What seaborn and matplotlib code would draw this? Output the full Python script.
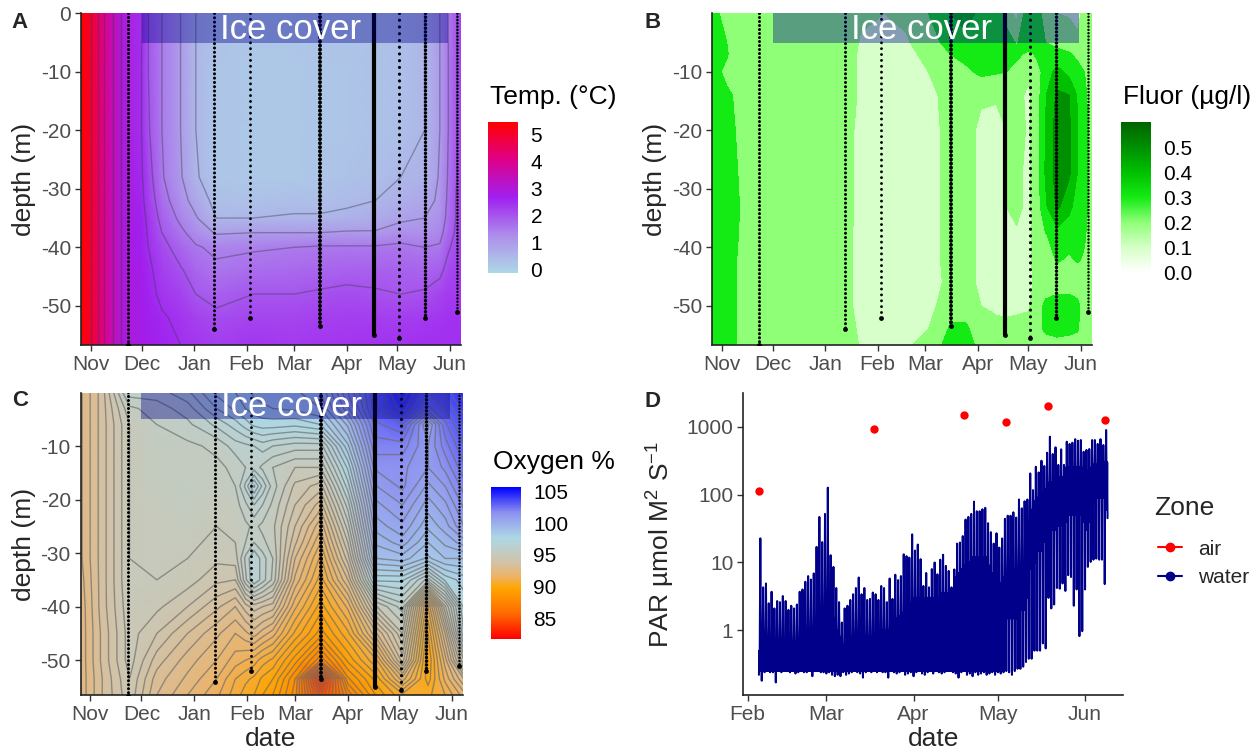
import numpy as np
import pandas as pd
import seaborn as sns
import matplotlib
matplotlib.use('Agg')
import matplotlib.pyplot as plt
import matplotlib.dates as mdates
from matplotlib.colors import LinearSegmentedColormap, Normalize
from matplotlib.cm import ScalarMappable
from matplotlib.lines import Line2D

W, H = 1256, 752

month_dates = ['2018-11-01', '2018-12-01', '2019-01-01', '2019-02-01', '2019-03-01', '2019-04-01', '2019-05-01', '2019-06-01']
month_labels = ['Nov', 'Dec', 'Jan', 'Feb', 'Mar', 'Apr', 'May', 'Jun']
depth_ticks = [0, -10, -20, -30, -40, -50]
depth_labels = ['0', '-10', '-20', '-30', '-40', '-50']

# profiles taken through the season
station_dates = ['2018-11-23', '2019-01-13', '2019-02-03', '2019-03-16', '2019-04-17', '2019-05-02', '2019-05-17', '2019-06-05']
station_bottom = [-56.7, -54.0, -52.0, -53.5, -55.0, -55.5, -52.0, -51.0]
station_width = [2.2, 2.2, 2.1, 2.9, 3.0, 2.3, 2.5, 1.8]
station_gap = [1.3, 1.4, 2.0, 1.0, 0, 2.1, 1.05, 1.3]

# A: temperature
temp_dates = ['2018-10-26', '2018-11-01', '2018-11-05', '2018-11-09', '2018-11-14', '2018-11-19', '2018-12-01', '2018-12-05',
              '2018-12-13', '2018-12-24', '2019-01-02', '2019-01-14', '2019-02-05', '2019-03-01', '2019-03-16', '2019-04-01',
              '2019-04-18', '2019-05-03', '2019-05-17', '2019-05-26', '2019-05-31', '2019-06-05', '2019-06-08']
temp_depths = [0, -10, -20, -28, -32, -35, -37.5, -40, -44, -48, -52, -56.7]
temp_values = [
    [5.6, 5.6, 5.6, 5.6, 5.6, 5.6, 5.6, 5.6, 5.6, 5.6, 5.6, 5.6],
    [5.0, 5.0, 5.0, 5.0, 5.0, 5.0, 5.0, 5.0, 5.0, 5.0, 5.0, 5.0],
    [4.5, 4.5, 4.5, 4.5, 4.5, 4.5, 4.5, 4.5, 4.5, 4.5, 4.5, 4.5],
    [4.0, 4.0, 4.0, 4.0, 4.0, 4.0, 4.0, 4.0, 4.0, 4.0, 4.0, 4.0],
    [3.5, 3.5, 3.5, 3.5, 3.5, 3.5, 3.5, 3.5, 3.5, 3.5, 3.5, 3.5],
    [3.0, 3.0, 3.0, 3.0, 3.0, 3.0, 3.0, 3.0, 3.0, 3.0, 3.0, 3.0],
    [2.5, 2.5, 2.5, 2.55, 2.6, 2.65, 2.7, 2.7, 2.75, 2.75, 2.8, 2.8],
    [2.0, 2.0, 2.05, 2.2, 2.3, 2.4, 2.45, 2.5, 2.6, 2.65, 2.7, 2.75],
    [1.5, 1.5, 1.5, 1.55, 1.7, 1.85, 2.0, 2.15, 2.3, 2.4, 2.55, 2.65],
    [1.0, 1.0, 1.0, 1.05, 1.2, 1.4, 1.6, 1.8, 2.05, 2.25, 2.4, 2.5],
    [0.5, 0.5, 0.5, 0.55, 0.8, 1.05, 1.3, 1.55, 1.8, 2.0, 2.25, 2.4],
    [0.3, 0.25, 0.25, 0.25, 0.35, 0.5, 0.95, 1.4, 1.6, 1.85, 2.1, 2.3],
    [0.25, 0.2, 0.2, 0.2, 0.3, 0.5, 1.0, 1.45, 1.7, 2.0, 2.2, 2.4],
    [0.25, 0.2, 0.2, 0.2, 0.35, 0.55, 1.0, 1.5, 1.75, 2.0, 2.2, 2.35],
    [0.3, 0.25, 0.25, 0.25, 0.35, 0.55, 1.0, 1.55, 1.8, 2.05, 2.25, 2.4],
    [0.3, 0.25, 0.25, 0.3, 0.42, 0.6, 1.05, 1.55, 1.85, 2.1, 2.3, 2.4],
    [0.3, 0.3, 0.3, 0.35, 0.5, 0.7, 1.05, 1.55, 1.85, 2.05, 2.3, 2.45],
    [0.4, 0.35, 0.35, 0.5, 0.65, 0.9, 1.25, 1.6, 1.85, 2.0, 2.3, 2.45],
    [0.5, 0.5, 0.5, 0.6, 0.8, 1.0, 1.2, 1.5, 1.8, 2.05, 2.35, 2.5],
    [1.0, 1.0, 1.0, 1.05, 1.1, 1.2, 1.35, 1.55, 1.9, 2.2, 2.4, 2.5],
    [1.5, 1.5, 1.5, 1.55, 1.6, 1.65, 1.75, 1.95, 2.15, 2.35, 2.45, 2.5],
    [2.0, 2.0, 2.0, 2.0, 2.05, 2.05, 2.1, 2.15, 2.25, 2.35, 2.45, 2.5],
    [2.3, 2.3, 2.3, 2.3, 2.3, 2.3, 2.3, 2.35, 2.4, 2.4, 2.45, 2.5],
]

# B: fluorescence
fluor_dates = ['2018-10-26', '2018-11-04', '2018-11-09', '2018-11-14', '2019-01-14', '2019-01-22', '2019-02-05', '2019-02-18',
               '2019-03-03', '2019-03-10', '2019-03-16', '2019-03-25', '2019-04-03', '2019-04-12', '2019-04-18', '2019-04-24',
               '2019-05-01', '2019-05-06', '2019-05-11', '2019-05-18', '2019-05-25', '2019-05-30', '2019-06-03', '2019-06-08']
fluor_depths = [0, -5, -7, -10, -14, -20, -27, -33, -38, -42, -46, -50, -54, -56.7]
fluor_values = [
    [.30, .30, .30, .30, .30, .30, .30, .30, .30, .30, .30, .30, .30, .30],
    [.20, .25, .26, .22, .27, .30, .30, .30, .30, .30, .30, .30, .30, .30],
    [.20, .20, .20, .20, .24, .25, .27, .30, .28, .26, .26, .26, .26, .26],
    [.20, .20, .20, .20, .20, .20, .20, .20, .20, .20, .20, .20, .20, .20],
    [.20, .20, .20, .20, .20, .18, .18, .18, .17, .17, .17, .17, .19, .20],
    [.17, .14, .13, .13, .13, .12, .12, .12, .12, .12, .12, .12, .13, .14],
    [.15, .12, .10, .10, .10, .10, .10, .10, .10, .10, .10, .10, .10, .10],
    [.17, .14, .13, .12, .10, .10, .10, .10, .10, .10, .10, .10, .12, .14],
    [.25, .20, .17, .15, .13, .13, .13, .13, .13, .13, .13, .13, .15, .18],
    [.30, .25, .20, .18, .155, .15, .15, .15, .15, .15, .145, .16, .19, .24],
    [.35, .30, .25, .20, .20, .20, .20, .20, .20, .20, .17, .20, .27, .32],
    [.38, .33, .28, .23, .20, .20, .20, .20, .20, .20, .20, .20, .27, .32],
    [.33, .30, .30, .27, .17, .12, .12, .12, .12, .12, .12, .15, .18, .20],
    [.34, .33, .32, .26, .16, .12, .12, .12, .12, .12, .12, .13, .18, .20],
    [.20, .30, .30, .25, .18, .15, .15, .15, .13, .12, .10, .12, .18, .20],
    [.12, .24, .28, .20, .18, .18, .17, .17, .14, .12, .10, .13, .18, .20],
    [.33, .32, .22, .17, .13, .14, .13, .13, .12, .12, .11, .14, .18, .20],
    [.30, .30, .27, .20, .20, .20, .20, .20, .20, .20, .19, .20, .20, .20],
    [.20, .25, .26, .30, .34, .35, .36, .33, .24, .20, .20, .27, .27, .20],
    [.15, .22, .28, .38, .47, .50, .50, .47, .30, .26, .20, .30, .30, .20],
    [.14, .20, .26, .32, .45, .47, .47, .38, .28, .24, .20, .30, .28, .20],
    [.12, .17, .23, .28, .34, .35, .35, .30, .27, .26, .20, .27, .26, .20],
    [.18, .20, .20, .25, .27, .28, .28, .28, .26, .24, .20, .20, .20, .20],
    [.20, .20, .20, .20, .20, .20, .20, .20, .20, .20, .20, .20, .20, .20],
]

# C: oxygen saturation
oxy_dates = ['2018-10-26', '2018-11-08', '2018-11-24', '2018-12-10', '2018-12-28', '2019-01-14', '2019-01-25', '2019-01-31',
             '2019-02-05', '2019-02-10', '2019-02-16', '2019-03-01', '2019-03-16', '2019-04-01', '2019-04-18', '2019-05-03',
             '2019-05-18', '2019-05-28', '2019-06-08']
oxy_depths = [0, -3, -6, -10, -14, -17.5, -21, -25, -28, -31, -35, -40, -45, -50, -53.5, -56.5]
oxy_values = [
    [92.5, 92.5, 92.5, 92.5, 92.5, 92.5, 92.5, 92.5, 92.5, 92.5, 92.4, 92.3, 92.3, 92.3, 92.3, 92.3],
    [93.6, 93.6, 93.6, 93.6, 93.6, 93.6, 93.6, 93.6, 93.6, 93.6, 93.6, 93.6, 93.5, 93.5, 93.4, 93.4],
    [96.0, 95.3, 95.0, 95.0, 95.0, 95.0, 95.0, 95.0, 95.0, 95.0, 95.0, 94.9, 94.8, 94.8, 94.6, 94.5],
    [96.0, 95.6, 95.4, 95.3, 95.3, 95.2, 95.1, 95.1, 95.1, 95.1, 95.0, 94.7, 94.2, 93.6, 93.2, 93.0],
    [96.5, 96.0, 95.7, 95.3, 95.3, 95.4, 95.3, 95.2, 95.1, 95.0, 94.8, 94.2, 93.4, 92.8, 92.5, 92.2],
    [97.5, 97.0, 96.3, 95.5, 95.3, 95.2, 95.1, 95.0, 94.9, 94.7, 94.3, 93.5, 92.7, 92.2, 91.8, 91.5],
    [97.8, 97.5, 96.8, 96.0, 95.5, 95.4, 95.2, 95.1, 95.0, 94.8, 94.2, 93.0, 92.2, 91.6, 91.0, 90.8],
    [98.0, 97.8, 97.2, 96.1, 95.8, 96.3, 95.7, 95.3, 95.4, 95.9, 95.7, 93.6, 92.5, 91.4, 90.7, 90.4],
    [98.3, 98.0, 97.5, 96.2, 96.0, 97.5, 96.2, 95.5, 95.8, 96.6, 96.6, 94.0, 92.8, 91.2, 90.5, 90.2],
    [98.4, 98.1, 97.6, 96.4, 95.7, 96.5, 95.8, 95.3, 95.5, 96.0, 96.0, 93.8, 92.4, 90.8, 90.1, 89.8],
    [98.5, 98.2, 97.6, 96.2, 95.4, 95.6, 95.3, 95.1, 95.2, 95.4, 95.3, 93.6, 92.0, 90.5, 89.8, 89.4],
    [98.5, 98.3, 97.5, 96.0, 95.0, 94.5, 94.2, 93.8, 93.5, 93.0, 92.5, 91.5, 90.5, 89.2, 88.2, 88.0],
    [99.0, 98.6, 97.8, 96.0, 95.0, 94.0, 93.2, 92.3, 91.8, 91.3, 90.8, 90.0, 89.2, 87.5, 83.5, 84.5],
    [101.0, 100.5, 99.5, 98.5, 97.5, 96.8, 96.0, 95.2, 94.6, 94.0, 93.0, 91.5, 90.5, 89.5, 88.5, 87.5],
    [103.0, 103.0, 102.5, 102.0, 101.5, 101.0, 100.5, 100.0, 99.5, 99.0, 97.5, 95.0, 93.0, 91.0, 90.0, 89.5],
    [104.5, 104.0, 103.0, 102.0, 101.5, 101.5, 101.0, 100.5, 100.0, 99.2, 97.5, 96.0, 95.0, 94.0, 92.0, 90.5],
    [103.0, 102.5, 100.5, 101.0, 101.0, 100.5, 100.0, 99.5, 99.0, 98.5, 96.0, 91.0, 90.2, 89.8, 90.0, 90.5],
    [103.5, 103.0, 102.5, 102.0, 101.5, 101.0, 100.5, 100.0, 99.5, 99.0, 97.5, 94.5, 93.0, 92.0, 91.5, 91.0],
    [104.5, 104.0, 103.5, 103.0, 102.5, 102.0, 101.5, 101.0, 100.0, 99.0, 98.0, 97.5, 97.0, 95.0, 93.0, 92.0],
]

# D: PAR per day from 5 Feb to 8 Jun: noon peak, top of the solid band, night low, daytime trough
par_first_day = '2019-02-05'
par_peak = [22.7, 4.3, 4.9, 2.5, 3.7, 2.1, 2.7, 2.6, 3.2, 2.7, 2.0, 2.3, 2.1, 2.4, 3.7, 4.0, 5.2, 6.3, 5.6, 6.9, 17, 47, 20, 52,
            127, 12.8, 8.6, 4.2, 2.6, 1.3, 2.1, 2.3, 2.8, 3.4, 4.2, 6.0, 3.4, 4.2, 2.8, 2.9, 3.6, 3.4, 2.8, 4.5, 4.2, 2.6, 5.8, 2.9, 6.6, 5.5, 6.3, 13.2, 12.4, 11.8, 26,
            15, 18.4, 11.2, 4.5, 7, 4.3, 8, 10, 6.7, 11, 13, 8.9, 7.5, 4.3, 7.9, 19, 19.7, 24.5, 43, 47, 52, 79, 57, 57, 61, 64, 38, 28, 19, 27,
            16.6, 22.6, 44, 49, 49, 55, 46, 85, 63, 80, 85, 206, 117, 258, 213, 317, 265, 416, 718, 398, 500, 275, 467, 275, 605, 560, 585, 660, 626, 640, 430,
            457, 472, 640, 640, 560, 660, 540, 900]
par_band = [.5, .5, .5, .5, .5, .5, .5, .5, .5, .5, .5, .5, .5, .5, .5, .55, .55, .55, .6, .7, 1.0, 1.5, 1.5, 1.8,
            2, 2, 1.5, 1, .8, .6, .6, .6, .6, .7, .7, .7, .7, .7, .8, .8, .8, .8, .8, .9, 1, 1, 1, 1.2, 1.3, 1.5, 1.6, 1.8, 2, 2, 2.5,
            3, 3, 3, 2.5, 3, 3, 3, 3, 3, 3, 3.5, 3.5, 3.5, 3, 3.5, 6, 7, 8, 9, 10, 10, 12, 12, 12, 12, 12, 9, 7, 6, 6,
            5, 5, 6, 7, 7, 7, 7, 8, 8, 8, 12, 40, 60, 80, 90, 100, 110, 120, 150, 150, 180, 150, 180, 150, 250, 250, 250, 250, 250, 250, 220,
            230, 230, 250, 280, 280, 280, 280, 300]
par_low = [.22, .18, .24, .25, .24, .24, .17, .25, .24, .26, .25, .24, .25, .23, .24, .25, .24, .24, .25, .21, .25, .26, .24, .24,
           .23, .24, .22, .21, .22, .21, .24, .22, .23, .24, .25, .24, .23, .20, .24, .25, .24, .25, .24, .25, .24, .24, .20, .25, .24, .23, .24, .25, .22, .23, .24,
           .21, .24, .25, .23, .22, .24, .25, .23, .25, .24, .23, .24, .25, .25, .24, .23, .20, .24, .25, .22, .23, .21, .24, .22, .23, .24, .22, .23, .24, .22,
           .24, .23, .24, .25, .24, .22, .25, .27, .27, .29, .34, .38, .38, .5, .5, .5, .64, .54, 3.0, 2.1, 2.4, 4.2, 4.1, 4.9, 3.8, 6.5, 6.1, 2.3, 4.0, .82, .97,
           4.0, 8.6, 10.2, 11, 11.4, 11, 11, 4.8]
par_trough = [.25, .25, .25, .25, .25, .25, .25, .25, .25, .25, .25, .25, .25, .25, .25, .25, .25, .25, .25, .25, .25, .25, .25, .25,
              .25, .25, .25, .25, .25, .25, .25, .25, .25, .25, .25, .25, .25, .25, .25, .25, .25, .25, .25, .25, .25, .25, .25, .25, .25, .25, .25, .25, .25, .25, .25,
              .25, .25, .25, .25, .25, .25, .25, .25, .25, .25, .25, .25, .25, .25, .25, .25, .25, .25, .25, .25, .25, .25, .25, .25, .25, .25, .25, .25, .25, .25,
              .25, .25, 1.5, 1.5, 1.5, 1.5, 1.5, 1.5, 2, 2, 3, 8, 10, 10, 15, 15, 20, 20, 30, 30, 30, 35, 35, 40, 40, 50, 50, 50, 50, 50, 40,
              30, 40, 60, 80, 90, 90, 90, 60]
par_last = 45
air_dates = ['2019-02-05', '2019-03-18', '2019-04-19', '2019-05-04', '2019-05-19', '2019-06-08']
air_par = [112, 940, 1500, 1180, 2000, 1277]
par_ticks = [1, 10, 100, 1000]
par_tick_labels = ['1', '10', '100', '1000']
par_months = ['2019-02-01', '2019-03-01', '2019-04-01', '2019-05-01', '2019-06-01']
par_month_labels = ['Feb', 'Mar', 'Apr', 'May', 'Jun']

sns.set_theme(style='ticks')
plt.rcParams['font.family'] = ['Liberation Sans', 'DejaVu Sans']
plt.rcParams['mathtext.fontset'] = 'custom'
plt.rcParams['mathtext.rm'] = 'Liberation Sans'
plt.rcParams['mathtext.default'] = 'regular'

temp_cmap = LinearSegmentedColormap.from_list('temp', ['#ADD8E6', '#AD8DEB', '#A020F0', '#DE0088', '#FF0000'])
fluor_cmap = LinearSegmentedColormap.from_list('fluor', ['#FFFFFF', '#D6FFC8', '#90FF78', '#14EB14', '#00C000', '#009000', '#006400'])
oxy_cmap = LinearSegmentedColormap.from_list('oxy', [(0, '#FF0000'), (1/6, '#FF6B00'), (1/3, '#FFA500'), (5/12, '#ECB36A'),
                                                     (1/2, '#D3C2A6'), (2/3, '#ADD8E6'), (5/6, '#8D90F0'), (1, '#0000FF')])
temp_norm = Normalize(-0.12, 5.48)
fluor_norm = Normalize(0, 0.6)
oxy_norm = Normalize(81.7, 105.7)


def num(dates):
    return mdates.date2num(pd.to_datetime(dates))


def px_axes(fig, left, top, right, bottom):
    return fig.add_axes([left / W, 1 - bottom / H, (right - left) / W, (bottom - top) / H])


def style_axes(ax, tick_pos, tick_labels):
    sns.despine(ax=ax)
    for s in ['left', 'bottom']:
        ax.spines[s].set_linewidth(1.2)
        ax.spines[s].set_color('#222222')
    ax.set_xticks(tick_pos)
    ax.set_xticklabels(tick_labels)
    ax.tick_params(axis='both', labelsize=15, labelcolor='#4D4D4D', color='#333333', length=4, width=1, pad=3)
    ax.minorticks_off()


def add_overlay(ax, ice_y):
    # stations first, the ice band goes over them
    for d, b, lw, gap in zip(station_dates, station_bottom, station_width, station_gap):
        if gap == 0:
            ax.plot(num([d, d]), [0, b], color='black', lw=lw, zorder=4)
        else:
            ax.plot(num([d, d]), [0, b], color='black', lw=lw, ls=(0, (0.01, gap)), dash_capstyle='round', zorder=4)
    ends = pd.DataFrame({'date': num(station_dates), 'depth': station_bottom})
    sns.scatterplot(data=ends, x='date', y='depth', ax=ax, color='black', s=12, linewidth=0, zorder=4)
    start, stop = num(['2018-12-01', '2019-05-31'])
    ax.fill_between([start, stop], -5, 0, color='#00008B', alpha=0.38, linewidth=0, zorder=5)
    ax.text(num(['2019-02-27'])[0], ice_y, 'Ice cover', color='white', fontsize=25, ha='center', va='center', zorder=6)


def depth_panel(ax, ylim, ticks, labels, ice_y):
    ax.set_xlim(num(['2018-10-26 06:00', '2019-06-07 12:00']))
    ax.set_ylim(*ylim)
    add_overlay(ax, ice_y)
    style_axes(ax, num(month_dates), month_labels)
    ax.set_yticks(ticks)
    ax.set_yticklabels(labels)
    ax.set_xlabel('')
    ax.set_ylabel('')


def add_bar(fig, left, top, right, bottom, cmap, norm, ticks, labels, title, title_y):
    cax = px_axes(fig, left, top, right, bottom)
    cb = fig.colorbar(ScalarMappable(norm=norm, cmap=cmap), cax=cax)
    cb.outline.set_visible(False)
    cb.set_ticks(ticks)
    cb.set_ticklabels(labels)
    cax.tick_params(axis='y', left=True, right=True, direction='in', color='white', length=5, width=1, labelsize=15,
                    labelcolor='black', pad=9)
    cb.minorticks_off()
    fig.text((left + 2) / W, 1 - title_y / H, title, fontsize=19, ha='left', va='center', color='black')


fig = plt.figure(figsize=(W / 100, H / 100), dpi=100, facecolor='white')

# panel A
ax_a = px_axes(fig, 81, 13.3, 461, 345)
tx, ty = np.meshgrid(num(temp_dates), temp_depths)
tz = np.array(temp_values).T
ax_a.pcolormesh(tx, ty, tz, shading='gouraud', cmap=temp_cmap, norm=temp_norm, zorder=1)
ax_a.contour(tx, ty, tz, levels=[0.5, 1, 1.5, 2, 2.5, 3, 3.5, 4, 4.5, 5], colors='#3A3A4A', alpha=0.4, linewidths=1, zorder=2)
depth_panel(ax_a, (-56.7, 0), depth_ticks, depth_labels, -2.7)
add_bar(fig, 488, 122, 518, 273, temp_cmap, temp_norm, [0, 1, 2, 3, 4, 5], ['0', '1', '2', '3', '4', '5'], 'Temp. (°C)', 97)

# panel B
ax_b = px_axes(fig, 712, 13.3, 1092, 345)
fx, fy = np.meshgrid(num(fluor_dates), fluor_depths)
fz = np.array(fluor_values).T
ax_b.contourf(fx, fy, fz, levels=[0, .05, .15, .25, .35, .45, .55, .65], cmap=fluor_cmap, norm=fluor_norm, zorder=1)
depth_panel(ax_b, (-56.7, 0), depth_ticks[1:], depth_labels[1:], -2.7)
add_bar(fig, 1121, 122, 1151, 273, fluor_cmap, fluor_norm, [0, .1, .2, .3, .4, .5], ['0.0', '0.1', '0.2', '0.3', '0.4', '0.5'], 'Fluor (µg/l)', 97)

# panel C
ax_c = px_axes(fig, 80.5, 393, 463, 695)
ox, oy = np.meshgrid(num(oxy_dates), oxy_depths)
oz = np.array(oxy_values).T
ax_c.pcolormesh(ox, oy, oz, shading='gouraud', cmap=oxy_cmap, norm=oxy_norm, zorder=1)
ax_c.contour(ox, oy, oz, levels=np.arange(83, 105.4, 0.4), colors='#6A6A6A', alpha=0.65, linewidths=1, zorder=2)
depth_panel(ax_c, (-56.5, -0.1), depth_ticks[1:], depth_labels[1:], -2.7)
add_bar(fig, 491, 487, 521, 639, oxy_cmap, oxy_norm, [85, 90, 95, 100, 105], ['85', '90', '95', '100', '105'], 'Oxygen %', 462)

# panel D, each day of the water trace: low, band, trough, peak, trough, band
ax_d = px_axes(fig, 743, 393, 1123, 695)
first = num([par_first_day])[0]
day = first + np.arange(len(par_peak))
water_t = np.append(np.column_stack([day, day + 0.12, day + 0.24, day + 0.5, day + 0.76, day + 0.88]).ravel(), day[-1] + 1)
water_v = np.append(np.column_stack([par_low, par_band, par_trough, par_peak, par_trough, par_band]).ravel(), par_last)
water = pd.DataFrame({'date': water_t, 'par': water_v})
sns.lineplot(data=water, x='date', y='par', ax=ax_d, color='#00008B', lw=1.45, estimator=None, sort=False, legend=False)
air = pd.DataFrame({'date': num(air_dates), 'par': air_par})
sns.scatterplot(data=air, x='date', y='par', ax=ax_d, color='#FF0000', s=36, linewidth=0, zorder=5, legend=False)
ax_d.set_yscale('log')
ax_d.set_ylim(10 ** -0.955, 10 ** 3.5)
ax_d.set_xlim(num(['2019-01-30 08:00', '2019-06-14 12:00']))
style_axes(ax_d, num(par_months), par_month_labels)
ax_d.set_yticks(par_ticks)
ax_d.set_yticklabels(par_tick_labels)
ax_d.set_xlabel('')
ax_d.set_ylabel('')

handles = [Line2D([], [], color='#FF0000', marker='o', ms=6, lw=1.5), Line2D([], [], color='#00008B', marker='o', ms=6, lw=1.5)]
fig.legend(handles, ['air', 'water'], loc='upper left', bbox_to_anchor=(1139 / W, 1 - 521 / H), frameon=False,
           fontsize=15, handlelength=1.15, labelspacing=0.45, handletextpad=0.77)
fig.text(1154 / W, 1 - 508 / H, 'Zone', fontsize=19, ha='left', va='center')

# shared axis labels and panel letters
for x, y in [(24, 179), (655, 179), (24, 544)]:
    fig.text(x / W, 1 - y / H, 'depth (m)', fontsize=19, rotation=90, ha='center', va='center')
fig.text(661 / W, 1 - 544 / H, r'PAR µmol M$^2$ S$^{-1}$', fontsize=19, rotation=90, ha='center', va='center')
for x, y in [(271, 739), (934, 739)]:
    fig.text(x / W, 1 - y / H, 'date', fontsize=19, ha='center', va='center')
for letter, x, y in [('A', 11, 23), ('B', 644, 22), ('C', 12, 400), ('D', 644, 402)]:
    fig.text(x / W, 1 - y / H, letter, fontsize=16, fontweight='bold', ha='left', va='center')

fig.savefig('out.png', dpi=100)
